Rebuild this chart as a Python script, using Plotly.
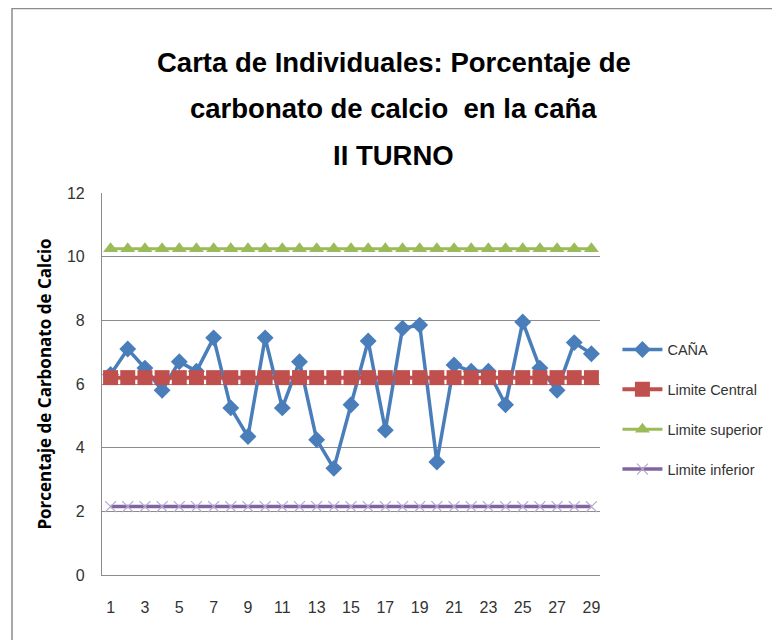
import plotly.graph_objects as go

muestras = list(range(1, 30))
cana = [6.3, 7.1, 6.5, 5.8, 6.7, 6.4, 7.45, 5.25, 4.35, 7.45, 5.25, 6.7, 4.25, 3.35, 5.35,
        7.35, 4.55, 7.75, 7.85, 3.55, 6.6, 6.4, 6.4, 5.35, 7.95, 6.5, 5.8, 7.3, 6.95]
limite_central = [6.2] * 29
limite_superior = [10.25] * 29
limite_inferior = [2.15] * 29
y_ticks = [0, 2, 4, 6, 8, 10, 12]
x_ticks = list(range(1, 30, 2))
titulo = ["Carta de Individuales: Porcentaje de", "carbonato de calcio  en la caña", "II TURNO"]

FONT = "Liberation Sans, Arial, sans-serif"

# page is offset by the 8px default body margin; figure coordinates below
L, T, PW, PH = 94, 185, 498, 382

fig = go.Figure()
fig.add_trace(go.Scatter(x=muestras, y=cana, name="CAÑA", mode="lines+markers", legendgroup="a",
                         line=dict(color="#4A7EBB", width=3.5),
                         marker=dict(symbol="diamond", size=13, color="#4A7EBB")))
fig.add_trace(go.Scatter(x=muestras, y=limite_central, name="Limite Central", mode="lines+markers",
                         legendgroup="b",
                         line=dict(color="#C0504D", width=4),
                         marker=dict(symbol="square", size=15, color="#C0504D")))
fig.add_trace(go.Scatter(x=muestras, y=limite_superior, name="Limite superior", mode="lines+markers",
                         legendgroup="c",
                         line=dict(color="#9BBB59", width=3),
                         marker=dict(symbol="triangle-up", size=13, color="#9BBB59")))
fig.add_trace(go.Scatter(x=muestras, y=limite_inferior, name="Limite inferior", mode="lines+markers",
                         legendgroup="d",
                         line=dict(color="#8064A2", width=3.5),
                         marker=dict(symbol="x-thin", size=11, color="#B7A8CF",
                                     line=dict(color="#B7A8CF", width=1.2))))

# title line centres (page px 62, 108, 155)
title_px = [62 - 8, 108 - 8, 155 - 8]
annotations = [dict(text=t, xref="paper", yref="paper", x=0.586, y=(T + PH - p) / PH,
                    xanchor="center", yanchor="middle", showarrow=False,
                    font=dict(family=FONT, size=27.5, color="black", weight="bold"))
               for t, p in zip(titulo, title_px)]

fig.update_layout(
    width=780, height=640,
    paper_bgcolor="white", plot_bgcolor="white",
    margin=dict(l=L, r=780 - L - PW, t=T, b=640 - T - PH, autoexpand=False),
    font=dict(family=FONT, color="#333333"),
    xaxis=dict(range=[0.5, 29.5], tickvals=x_ticks, ticktext=[str(v) for v in x_ticks],
               showgrid=False, showline=True, linecolor="#8C8C8C", linewidth=1.2,
               ticks="", tickfont=dict(size=16, color="#333333"), ticklabelstandoff=18,
               zeroline=False, automargin=False),
    yaxis=dict(range=[0, 12], tickvals=y_ticks, showgrid=True, gridcolor="#8C8C8C", gridwidth=1,
               showline=True, linecolor="#8C8C8C", linewidth=1.2, ticks="",
               tickfont=dict(size=16, color="#333333"), ticklabelstandoff=13, zeroline=False,
               automargin=False,
               title=dict(text="Porcentaje de Carbonato de Calcio",
                          font=dict(family="Open Sans, sans-serif", size=17, color="black", weight="bold"),
                          standoff=10)),
    legend=dict(x=1.035, y=0.632, xanchor="left", yanchor="top",
                font=dict(family=FONT, size=14.5, color="#333333"),
                tracegroupgap=18, itemwidth=40, bgcolor="rgba(0,0,0,0)"),
    annotations=annotations,
    shapes=[dict(type="rect", xref="paper", yref="paper",
                 x0=(4 - L) / PW, x1=1.6, y0=-0.4, y1=(T + PH - 0.5) / PH,
                 line=dict(color="#8C8C8C", width=1.5))],
)

fig.write_html("out.html")
